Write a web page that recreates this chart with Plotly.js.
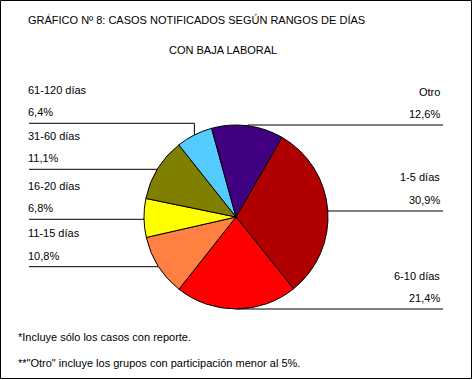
<!DOCTYPE html>
<html>
<head>
<meta charset="utf-8">
<script src="https://cdn.plot.ly/plotly-3.0.1.min.js"></script>
<style>html,body{margin:0;padding:0;background:#fff;}#chart{width:474px;height:380px;}</style>
</head>
<body>
<div id="chart"></div>
<script>
// ---- data ----
const categories = ['1-5 días','6-10 días','11-15 días','16-20 días','31-60 días','61-120 días','Otro'];
const values = [30.9, 21.4, 10.8, 6.8, 11.1, 6.4, 12.6];
const colors = ['#B00000','#FF0000','#FF8040','#FFFF00','#808000','#55CCFF','#400080'];
const titleLine1 = 'GRÁFICO Nº 8: CASOS NOTIFICADOS SEGÚN RANGOS DE DÍAS';
const titleLine2 = 'CON BAJA LABORAL';
const notes = ['*Incluye sólo los casos con reporte.', '**"Otro" incluye los grupos con participación menor al 5%.'];

// ---- layout constants ----
const W = 474, H = 380;
const cx = 236, cy = 217, R = 92;
const rotation = 30;
const font = {family: 'Liberation Sans, Arial, sans-serif', size: 11, color: '#000'};
// label placement: side and y (px) of the leader line under each label
const labelSide = ['right','right','left','left','left','left','right'];
const labelLineY = [211, 309, 266.7, 219.3, 169.3, 123.3, 125];
const leftX = 29, rightX = 443;

const px = x => x / W;
const py = y => 1 - y / H;

const total = values.reduce((a, b) => a + b, 0);
const annotations = [];
const shapes = [];
let cum = 0;
values.forEach((v, i) => {
  const midAng = (rotation + (cum + v / 2) / total * 360) * Math.PI / 180;
  cum += v;
  const mx = cx + R * Math.sin(midAng);
  const my = cy - R * Math.cos(midAng);
  const ly = labelLineY[i];
  const left = labelSide[i] === 'left';
  const startX = left ? leftX : rightX;
  shapes.push({
    type: 'path', xref: 'paper', yref: 'paper',
    path: `M ${px(startX)},${py(ly)} L ${px(mx)},${py(ly)} L ${px(mx)},${py(my)}`,
    line: {color: '#000', width: 1}, layer: 'below'
  });
  const pct = v.toFixed(1).replace('.', ',') + '%';
  const ax = left ? px(leftX - 3) : px(rightX - 1);
  const anchor = left ? 'left' : 'right';
  annotations.push({text: categories[i], x: ax, y: py(ly - 33.5), xref: 'paper', yref: 'paper',
    xanchor: anchor, yanchor: 'middle', showarrow: false, font: font});
  annotations.push({text: pct, x: ax, y: py(ly - 11), xref: 'paper', yref: 'paper',
    xanchor: anchor, yanchor: 'middle', showarrow: false, font: font});
});

annotations.push({text: titleLine2, x: px(167), y: py(50), xref: 'paper', yref: 'paper',
  xanchor: 'left', yanchor: 'middle', showarrow: false, font: font});
annotations.push({text: notes[0], x: px(16), y: py(336.7), xref: 'paper', yref: 'paper',
  xanchor: 'left', yanchor: 'middle', showarrow: false, font: font});
annotations.push({text: notes[1], x: px(16), y: py(363.3), xref: 'paper', yref: 'paper',
  xanchor: 'left', yanchor: 'middle', showarrow: false, font: font});

// outer frame
shapes.push({type: 'rect', xref: 'paper', yref: 'paper',
  x0: px(0.5), x1: px(471.5), y0: py(378.5), y1: py(0.5),
  line: {color: '#000', width: 1}, fillcolor: 'rgba(0,0,0,0)'});

const trace = {
  type: 'pie',
  labels: categories,
  values: values,
  sort: false,
  direction: 'clockwise',
  rotation: rotation,
  marker: {colors: colors, line: {color: '#000', width: 1}},
  textinfo: 'none',
  textposition: 'none',
  hoverinfo: 'label+percent',
  automargin: false,
  domain: {x: [px(cx - R), px(cx + R)], y: [py(cy + R), py(cy - R)]}
};

const layout = {
  width: W, height: H,
  margin: {l: 0, r: 0, t: 0, b: 0},
  paper_bgcolor: '#fff',
  showlegend: false,
  font: font,
  title: {text: titleLine1, font: font, x: px(28), xanchor: 'left', xref: 'paper',
    y: py(20), yanchor: 'middle', yref: 'container'},
  annotations: annotations,
  shapes: shapes
};

Plotly.newPlot('chart', [trace], layout, {staticPlot: true, displayModeBar: false});
</script>
</body>
</html>
